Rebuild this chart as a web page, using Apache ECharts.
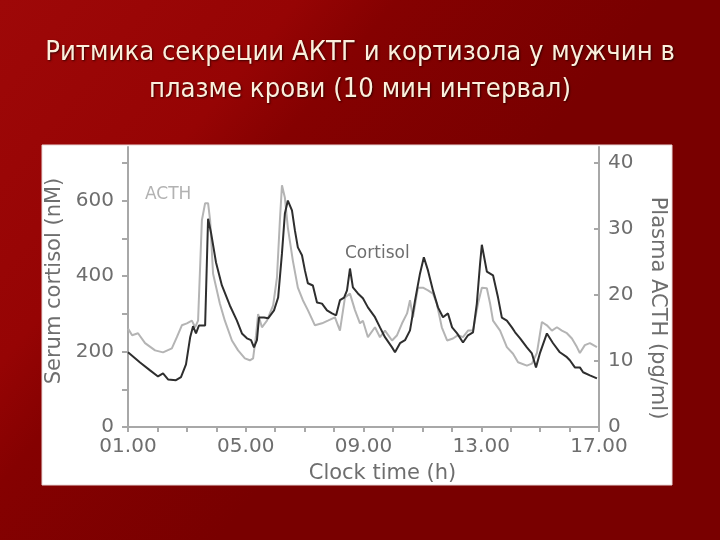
<!DOCTYPE html>
<html><head><meta charset="utf-8">
<script src="https://cdn.jsdelivr.net/npm/echarts@6/dist/echarts.min.js"></script>
<style>html,body{margin:0;padding:0;}#c{width:720px;height:540px;}</style>
</head><body><div id="c"></div>
<script>
// Cortisol (nM) — time in hours of day
const cortisolTime = [1.00,1.41,1.75,2.02,2.19,2.36,2.63,2.80,2.97,3.11,3.21,3.31,3.41,3.62,3.72,3.82,3.99,4.19,4.46,4.70,4.87,5.04,5.18,5.28,5.38,5.45,5.62,5.76,5.96,6.10,6.23,6.33,6.43,6.57,6.67,6.77,6.91,7.01,7.11,7.28,7.42,7.59,7.76,7.93,8.07,8.20,8.34,8.44,8.54,8.64,8.81,8.98,9.15,9.39,9.56,9.73,9.97,10.07,10.24,10.41,10.58,10.75,10.92,11.05,11.19,11.36,11.53,11.70,11.87,12.01,12.18,12.38,12.55,12.72,12.85,12.96,13.02,13.19,13.40,13.57,13.70,13.87,14.04,14.15,14.32,14.55,14.72,14.86,14.99,15.23,15.44,15.67,15.91,16.01,16.18,16.35,16.46,16.69,16.93];
const cortisolValues = [198,171,150,134,142,126,124,132,166,237,267,248,269,269,552,515,436,375,322,282,248,235,230,211,230,290,290,288,309,343,460,566,600,574,521,476,455,415,381,375,330,327,309,301,296,336,343,362,420,370,354,341,317,291,264,238,211,198,222,230,256,335,407,450,415,362,317,291,301,264,248,224,243,251,327,433,483,412,402,343,290,282,264,251,235,211,195,158,195,248,222,198,185,177,158,158,145,137,129];
// Plasma ACTH (pg/ml)
const acthTime = [1.00,1.14,1.34,1.58,1.92,2.19,2.49,2.66,2.83,3.00,3.17,3.28,3.38,3.51,3.62,3.72,3.79,3.89,4.12,4.29,4.53,4.74,4.97,5.14,5.25,5.35,5.42,5.55,5.72,5.93,6.06,6.16,6.23,6.33,6.43,6.60,6.77,6.94,7.11,7.35,7.59,7.79,8.03,8.20,8.37,8.54,8.71,8.88,8.98,9.15,9.39,9.56,9.73,9.97,10.14,10.31,10.48,10.58,10.68,10.85,11.02,11.19,11.36,11.49,11.66,11.84,12.04,12.21,12.38,12.55,12.72,12.89,13.02,13.19,13.30,13.40,13.64,13.87,14.08,14.25,14.55,14.72,14.89,15.06,15.23,15.40,15.57,15.74,15.91,16.08,16.25,16.35,16.52,16.69,16.93];
const acthValues = [14.9,13.9,14.2,12.7,11.6,11.3,11.9,13.6,15.4,15.7,16.1,15.1,16.1,31.3,33.9,33.9,31.3,23.2,18.7,16.1,13.1,11.6,10.4,10.1,10.4,13.9,17.1,15.1,16.1,18.4,22.6,31.3,36.6,34.7,30.2,25.2,21.1,19.2,17.7,15.4,15.7,16.1,16.6,14.6,19.6,20.2,17.7,15.7,16.1,13.6,15.1,13.6,14.6,13.1,13.9,15.7,17.2,19.2,16.6,21.1,21.1,20.7,20.2,18.7,15.1,13.1,13.4,13.9,13.6,14.6,14.6,18.7,21.1,21.0,18.7,16.1,14.6,12.1,11.1,9.8,9.3,9.6,11.2,15.9,15.4,14.6,15.1,14.6,14.2,13.4,12.1,11.2,12.4,12.7,12.1];
const xTickLabels = [1,5,9,13,17];
const leftTicks = [0,100,200,300,400,500,600,700];
const leftLabels = [0,200,400,600];
const rightTicks = [0,10,20,30,40];
const titleText = 'Ритмика секреции АКТГ и кортизола у мужчин в\nплазме крови (10 мин интервал)';

const LEFT_MAX = 742, RIGHT_MAX = 742*40/700;
const gray = '#6e6e6e', axisGray = '#a8a8a8';
const fnt = '"DejaVu Sans", sans-serif';

const chart = echarts.init(document.getElementById('c'));
chart.setOption({
  backgroundColor: {type:'linear', x:0, y:0, x2:0.55, y2:0.6, colorStops:[
    {offset:0, color:'#9e0808'},{offset:0.45, color:'#960404'},{offset:0.6, color:'#850101'},{offset:1, color:'#790000'}]},
  graphic: [
    {type:'rect', z:-10, shape:{x:42, y:145, width:630, height:340}, style:{fill:'#ffffff', stroke:'#ead6d6', lineWidth:1}},
    {type:'text', left:145, top:186, style:{text:'ACTH', fill:'#b2b2b2', font:'17px '+fnt}},
    {type:'text', left:345, top:245, style:{text:'Cortisol', fill:'#6e6e6e', font:'17px '+fnt}}
  ],
  title: {
    text: titleText, left:'center', top:29,
    textStyle: {color:'#fbefdc', fontSize:27.2, fontWeight:'normal', fontFamily:'"Liberation Sans Narrow", "DejaVu Sans Condensed", sans-serif', lineHeight:37,
      textShadowColor:'rgba(0,0,0,0.6)', textShadowBlur:2, textShadowOffsetX:1, textShadowOffsetY:1}
  },
  grid: {left:128, right:121, top:147, bottom:113, containLabel:false},
  xAxis: {
    type:'value', min:1, max:17, interval:1,
    name:'Clock time (h)', nameLocation:'middle', nameGap:36,
    nameTextStyle:{color:gray, fontSize:21, fontFamily:fnt, padding:[0,0,0,38]},
    axisLine:{show:true, lineStyle:{color:axisGray, width:2}},
    axisTick:{show:true, length:5, lineStyle:{color:axisGray, width:2}},
    splitLine:{show:false},
    axisLabel:{color:gray, fontSize:20, fontFamily:fnt, margin:10,
      formatter:function(v){ return xTickLabels.indexOf(v)>=0 ? (v<10?'0':'')+v+'.00' : ''; }}
  },
  yAxis: [{
    type:'value', min:0, max:LEFT_MAX, position:'left',
    name:'Serum cortisol (nM)', nameLocation:'middle', nameGap:60, nameRotate:90,
    nameTextStyle:{color:gray, fontSize:21, fontFamily:fnt, padding:[0,0,0,12]},
    axisLine:{show:true, lineStyle:{color:axisGray, width:2}},
    axisTick:{show:true, length:6, customValues:leftTicks, lineStyle:{color:axisGray, width:2}},
    splitLine:{show:false},
    axisLabel:{color:gray, fontSize:20, fontFamily:fnt, margin:14, customValues:leftLabels}
  },{
    type:'value', min:0, max:RIGHT_MAX, position:'right',
    name:'Plasma ACTH (pg/ml)', nameLocation:'middle', nameGap:48, nameRotate:-90,
    nameTextStyle:{color:gray, fontSize:21, fontFamily:fnt, padding:[0,0,0,42]},
    axisLine:{show:true, lineStyle:{color:axisGray, width:2}},
    axisTick:{show:true, inside:true, length:5, customValues:rightTicks, lineStyle:{color:axisGray, width:2}},
    splitLine:{show:false},
    axisLabel:{color:gray, fontSize:20, fontFamily:fnt, margin:9, customValues:rightTicks}
  }],
  series: [{
    name:'ACTH', type:'line', yAxisIndex:1, showSymbol:false, animation:false,
    data: acthTime.map((t,i)=>[t, acthValues[i]]),
    lineStyle:{color:'#b4b4b4', width:2}, z:2
  },{
    name:'Cortisol', type:'line', yAxisIndex:0, showSymbol:false, animation:false,
    data: cortisolTime.map((t,i)=>[t, cortisolValues[i]]),
    lineStyle:{color:'#2e2e2e', width:2}, z:3
  }]
});
</script></body></html>
